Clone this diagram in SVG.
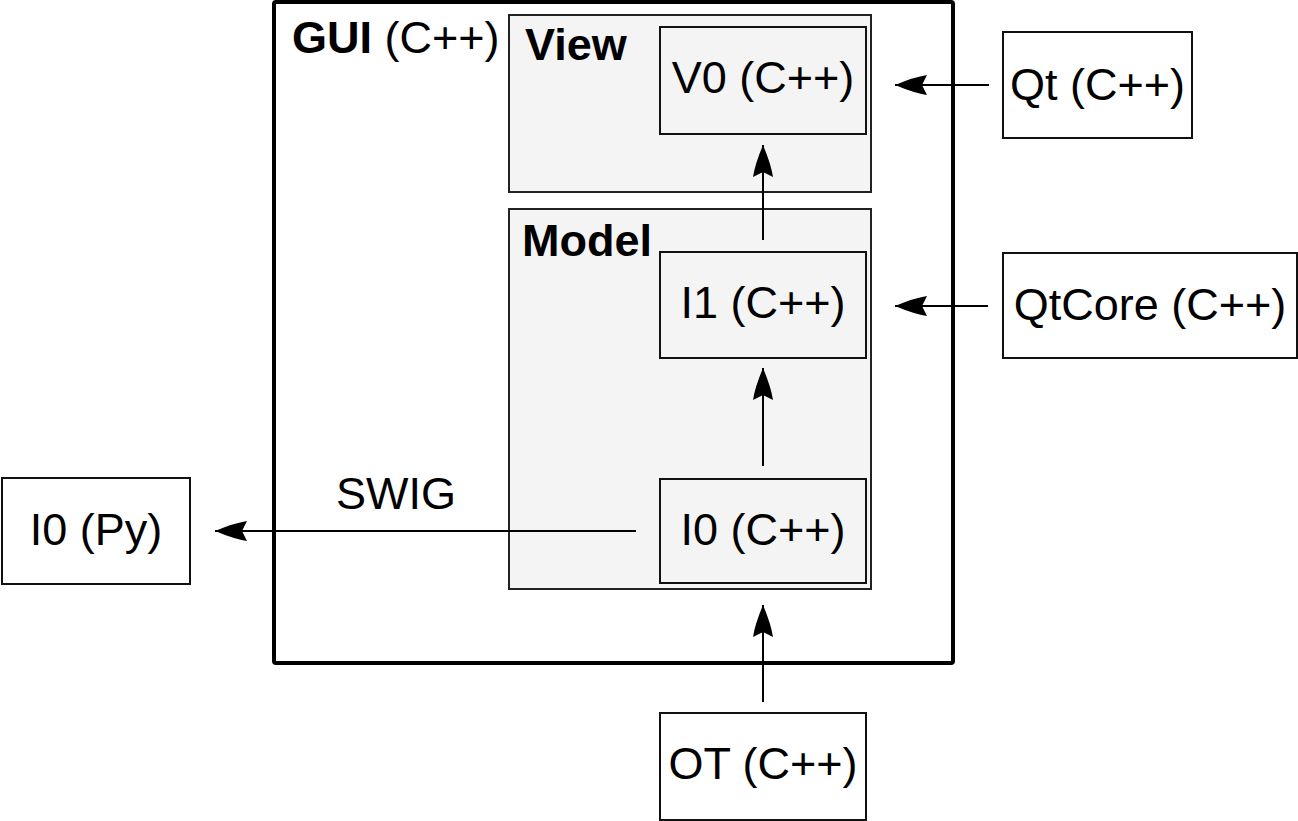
<svg xmlns="http://www.w3.org/2000/svg" width="1298" height="821" viewBox="0 0 1298 821">
<style>
text{font-family:"Liberation Sans",Arial,sans-serif;font-size:45px;fill:#000}
.c{text-anchor:middle}
.b{font-weight:bold}
.grp{fill:#f4f4f4;stroke:#222;stroke-width:2}
.nd{fill:#f4f4f4;stroke:#111;stroke-width:2}
.ext{fill:#fff;stroke:#111;stroke-width:2}
.edge{fill:none;stroke:#000;stroke-width:2}
</style>
<defs>
<marker id="ah" markerUnits="userSpaceOnUse" markerWidth="34" markerHeight="22" viewBox="0 0 34 22" refX="33" refY="11" orient="auto">
<path d="M33,11 Q14,3 1,1 L6,11 L1,21 Q14,19 33,11 Z" fill="#000"/>
</marker>
</defs>
<rect width="1298" height="821" fill="#fff"/>
<g id="gui">
<rect x="274" y="2" width="679" height="661" rx="2" fill="#fff" stroke="#000" stroke-width="4"/>
<text x="292" y="53"><tspan class="b">GUI</tspan> (C++)</text>
</g>
<g id="view">
<rect class="grp" x="509" y="15" width="362" height="177"/>
<text class="b" x="525" y="60">View</text>
</g>
<g id="model">
<rect class="grp" x="509" y="209" width="362" height="380"/>
<text class="b" x="522" y="256">Model</text>
</g>
<g id="v0">
<rect class="nd" x="660" y="27" width="206" height="107"/>
<text class="c" x="763" y="93">V0 (C++)</text>
</g>
<g id="i1">
<rect class="nd" x="660" y="252" width="206" height="106"/>
<text class="c" x="763" y="318">I1 (C++)</text>
</g>
<g id="i0cpp">
<rect class="nd" x="660" y="479" width="206" height="104"/>
<text class="c" x="763" y="545">I0 (C++)</text>
</g>
<g id="qt">
<rect class="ext" x="1003" y="32" width="189" height="106"/>
<text class="c" x="1097.5" y="100">Qt (C++)</text>
</g>
<g id="qtcore">
<rect class="ext" x="1003" y="253" width="294" height="105"/>
<text class="c" x="1150" y="320">QtCore (C++)</text>
</g>
<g id="i0py">
<rect class="ext" x="2" y="478" width="188" height="106"/>
<text class="c" x="96" y="545">I0 (Py)</text>
</g>
<g id="ot">
<rect class="ext" x="660" y="713" width="206" height="107"/>
<text class="c" x="763" y="779">OT (C++)</text>
</g>
<g id="connectors">
<path class="edge" d="M989,85 L895,85" marker-end="url(#ah)"/>
<path class="edge" d="M988,306 L895,306" marker-end="url(#ah)"/>
<path class="edge" d="M763,240 L763,145" marker-end="url(#ah)"/>
<path class="edge" d="M763,466 L763,368" marker-end="url(#ah)"/>
<path class="edge" d="M763,702 L763,605" marker-end="url(#ah)"/>
<path class="edge" d="M636,531 L215,531" marker-end="url(#ah)"/>
<text class="c" x="396" y="509">SWIG</text>
</g>
</svg>
